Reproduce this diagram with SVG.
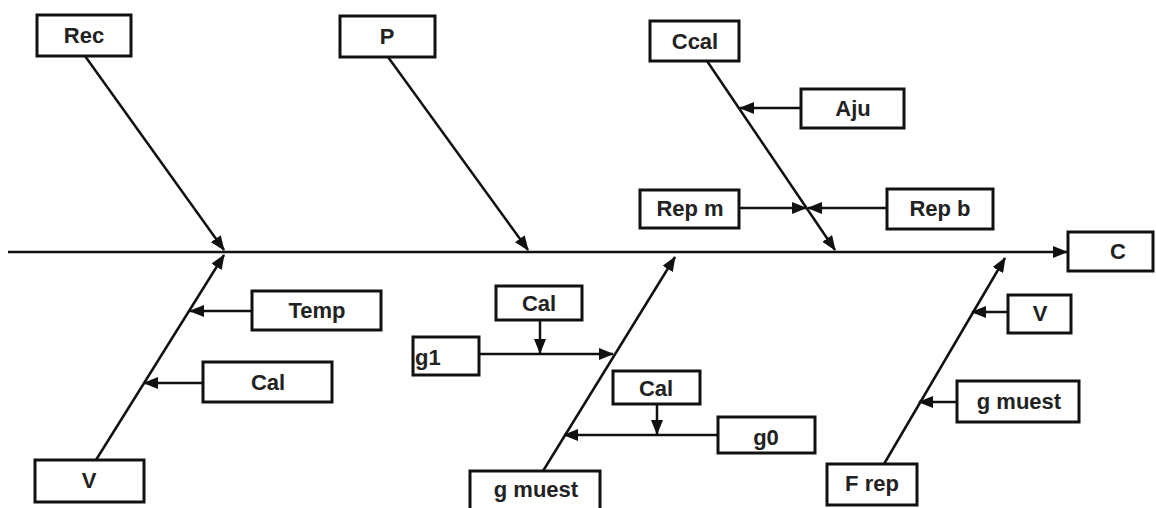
<svg xmlns="http://www.w3.org/2000/svg" width="1156" height="508" viewBox="0 0 1156 508">
<defs>
<style>
.box{fill:#fff;stroke:#111;stroke-width:3}
.t{font-family:"Liberation Sans",Arial,sans-serif;font-weight:bold;font-size:22px;fill:#222;text-anchor:middle}
.ln{stroke:#111;stroke-width:2.5;fill:none;marker-end:url(#ah)}
</style>
<marker id="ah" markerUnits="userSpaceOnUse" markerWidth="16" markerHeight="12" refX="14" refY="6" orient="auto">
<path d="M0,0 L15,6 L0,12 Z" fill="#111"/>
</marker>
</defs>
<rect width="1156" height="508" fill="#fff"/>
<g id="connectors">
<line class="ln" x1="8" y1="252" x2="1067" y2="252"/>
<line class="ln" x1="85" y1="56" x2="224" y2="250"/>
<line class="ln" x1="388" y1="57" x2="528" y2="250"/>
<line class="ln" x1="707" y1="61" x2="835" y2="250"/>
<line class="ln" x1="801" y1="108" x2="740" y2="108"/>
<line class="ln" x1="739" y1="208" x2="806" y2="208"/>
<line class="ln" x1="887" y1="208" x2="808" y2="208"/>
<line class="ln" x1="96" y1="460" x2="224" y2="255"/>
<line class="ln" x1="252" y1="311" x2="190" y2="311"/>
<line class="ln" x1="203" y1="383" x2="144" y2="383"/>
<line class="ln" x1="543" y1="471" x2="675" y2="257"/>
<line class="ln" x1="479" y1="354" x2="613" y2="354"/>
<line class="ln" x1="540" y1="320" x2="540" y2="353"/>
<line class="ln" x1="718" y1="435" x2="564" y2="435"/>
<line class="ln" x1="657" y1="404" x2="657" y2="434"/>
<line class="ln" x1="884" y1="464" x2="1005" y2="258"/>
<line class="ln" x1="1008" y1="312" x2="972" y2="312"/>
<line class="ln" x1="957" y1="402" x2="919" y2="402"/>
</g>
<g id="rec"><rect class="box" x="37" y="15" width="94" height="41"/><text class="t" x="84" y="43">Rec</text></g>
<g id="p"><rect class="box" x="340" y="16" width="95" height="41"/><text class="t" x="387" y="44">P</text></g>
<g id="ccal"><rect class="box" x="650" y="21" width="89" height="40"/><text class="t" x="695" y="49">Ccal</text></g>
<g id="aju"><rect class="box" x="801" y="89" width="103" height="39"/><text class="t" x="853" y="116">Aju</text></g>
<g id="repm"><rect class="box" x="640" y="190" width="99" height="38"/><text class="t" x="690" y="216">Rep m</text></g>
<g id="repb"><rect class="box" x="887" y="189" width="106" height="40"/><text class="t" x="940" y="216">Rep b</text></g>
<g id="c"><rect class="box" x="1068" y="232" width="85" height="39"/><text class="t" x="1118" y="259">C</text></g>
<g id="temp"><rect class="box" x="252" y="291" width="129" height="39"/><text class="t" x="317" y="318">Temp</text></g>
<g id="cal1"><rect class="box" x="203" y="362" width="129" height="40"/><text class="t" x="268" y="390">Cal</text></g>
<g id="v1"><rect class="box" x="35" y="460" width="109" height="42"/><text class="t" x="89" y="488">V</text></g>
<g id="cal2"><rect class="box" x="496" y="286" width="86" height="34"/><text class="t" x="539" y="311">Cal</text></g>
<g id="g1"><rect class="box" x="413" y="337" width="66" height="38"/><text class="t" x="415" y="365" style="text-anchor:start">g1</text></g>
<g id="cal3"><rect class="box" x="613" y="371" width="87" height="33"/><text class="t" x="656" y="396">Cal</text></g>
<g id="g0"><rect class="box" x="718" y="417" width="97" height="36"/><text class="t" x="766" y="445">g0</text></g>
<g id="gmuest1"><rect class="box" x="470" y="471" width="130" height="42"/><text class="t" x="536" y="497">g muest</text></g>
<g id="frep"><rect class="box" x="827" y="464" width="90" height="41"/><text class="t" x="872" y="491">F rep</text></g>
<g id="v2"><rect class="box" x="1008" y="295" width="63" height="38"/><text class="t" x="1040" y="321">V</text></g>
<g id="gmuest2"><rect class="box" x="957" y="381" width="122" height="41"/><text class="t" x="1019" y="409">g muest</text></g>
</svg>
